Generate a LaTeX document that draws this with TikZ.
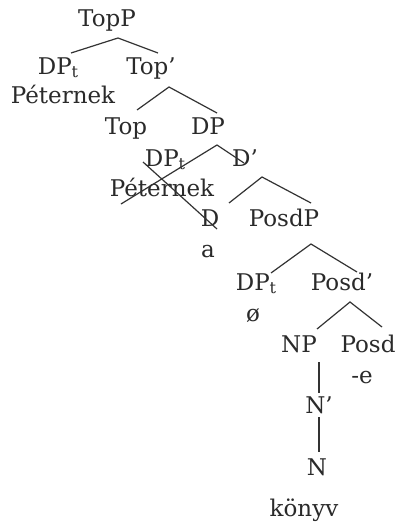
\documentclass[tikz,border=0pt]{standalone}
\usepackage{fontspec}
\setmainfont{DejaVu Serif}
\definecolor{ink}{HTML}{2A2A2A}
\definecolor{branch}{HTML}{333333}
\newcommand\trsub{\raisebox{-3pt}{\fontsize{16}{16}\selectfont t}}
\begin{document}
\begin{tikzpicture}[x=1pt,y=-1pt,
  lab/.style={anchor=base,inner sep=0pt,text=ink,font=\fontsize{23}{25}\selectfont},
  edge/.style={draw=branch,line width=1.2pt}]
\useasboundingbox[fill=white] (0,0) rectangle (397,530);

% labels
\node[lab] (topp)  at (107,26)  {TopP};
\node[lab] (dpt1)  at (58,74)   {DP\trsub};
\node[lab] (topb)  at (151,74)  {Top'};
\node[lab] (pet1)  at (63,103)  {Péternek};
\node[lab] (top)   at (126,134) {Top};
\node[lab] (dp)    at (208,134) {DP};
\node[lab] (dpt2)  at (165,166) {DP\trsub};
\node[lab] (db)    at (245,166) {D'};
\node[lab] (pet2)  at (162,196) {Péternek};
\node[lab] (d)     at (210,226) {D};
\node[lab] (posdp) at (284,226) {PosdP};
\node[lab] (a)     at (208,257) {a};
\node[lab] (dpt3)  at (256,290) {DP\trsub};
\node[lab] (posdb) at (342,290) {Posd'};
\node[lab] (null)  at (253,321) {ø};
\node[lab] (np)    at (299,352) {NP};
\node[lab] (posd)  at (368,352) {Posd};
\node[lab] (suf)   at (362,383) {-e};
\node[lab] (nb)    at (319,413) {N'};
\node[lab] (n)     at (317,475) {N};
\node[lab] (konyv) at (304,516) {könyv};

% branch points and branch ends
\coordinate (toppA) at (118,38);
\coordinate (toppL) at (71,53);
\coordinate (toppR) at (158,53);
\coordinate (topbA) at (169,87);
\coordinate (topbL) at (137,110);
\coordinate (topbR) at (217,113);
\coordinate (dpA)   at (217,145);
\coordinate (dpL)   at (121,204);
\coordinate (dpR)   at (244,163);
\coordinate (dtS)   at (143,162);
\coordinate (dtE)   at (217,229);
\coordinate (dbA)   at (262,177);
\coordinate (dbL)   at (229,203);
\coordinate (dbR)   at (311,203);
\coordinate (posA)  at (311,244);
\coordinate (posL)  at (271,273);
\coordinate (posR)  at (357,272);
\coordinate (pbA)   at (350,302);
\coordinate (pbL)   at (317,329);
\coordinate (pbR)   at (382,327);
\coordinate (npT)   at (319,362);
\coordinate (npB)   at (319,393);
\coordinate (nbT)   at (319,417);
\coordinate (nbB)   at (319,452);

% branches
\draw[edge] (toppL) -- (toppA) -- (toppR);
\draw[edge] (topbL) -- (topbA) -- (topbR);
\draw[edge] (dpL) -- (dpA) -- (dpR);
\draw[edge] (dtS) -- (dtE);
\draw[edge] (dbL) -- (dbA) -- (dbR);
\draw[edge] (posL) -- (posA) -- (posR);
\draw[edge] (pbL) -- (pbA) -- (pbR);
\draw[edge] (npT) -- (npB);
\draw[edge] (nbT) -- (nbB);
\end{tikzpicture}
\end{document}
